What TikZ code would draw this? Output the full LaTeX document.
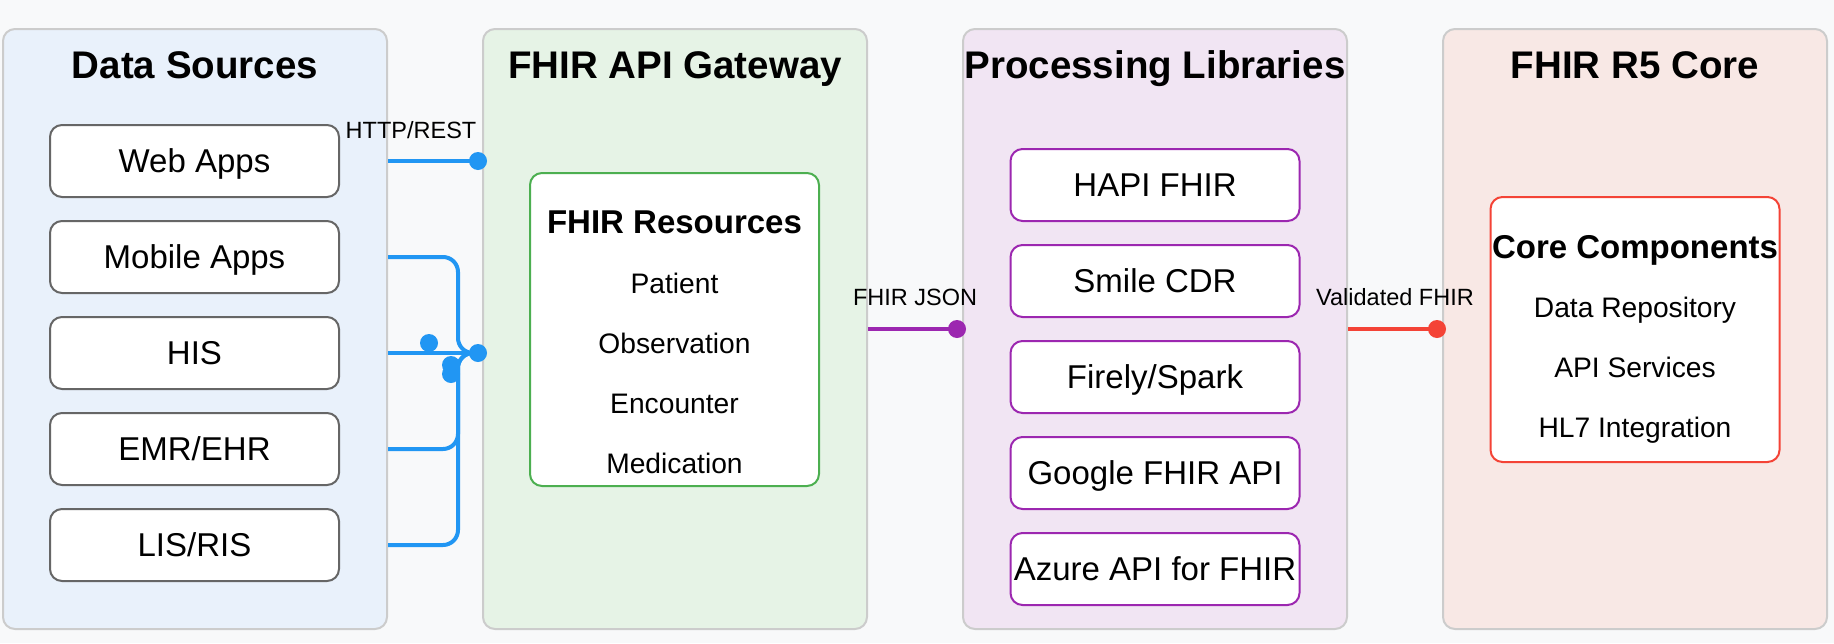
\documentclass[tikz,border=0pt]{standalone}
\usepackage{fontspec}
\setmainfont{Liberation Sans}
\usetikzlibrary{calc}
\definecolor{pagebg}{HTML}{F8F9FA}
\definecolor{panelline}{HTML}{CCCCCC}
\definecolor{srcfill}{HTML}{E9F1FB}
\definecolor{gwfill}{HTML}{E6F3E6}
\definecolor{procfill}{HTML}{F1E5F3}
\definecolor{corefill}{HTML}{F8E8E5}
\definecolor{srcline}{HTML}{666666}
\definecolor{flowblue}{HTML}{2196F3}
\definecolor{flowpurple}{HTML}{9C27B0}
\definecolor{flowred}{HTML}{F44336}
\definecolor{resgreen}{HTML}{4CAF50}
\tikzset{
	panel/.style={draw=panelline, line width=1pt, rounded corners=6pt,
			minimum width=192pt, minimum height=300pt},
	paneltitle/.style={font=\bfseries\fontsize{19.25}{23}\selectfont,
			inner sep=0pt, text height=13.8pt, text depth=0pt},
	srcbox/.style={draw=srcline, fill=white, line width=1pt, rounded corners=6pt,
			minimum width=144.5pt, minimum height=36pt, inner sep=0pt,
			font=\fontsize{16.5}{20}\selectfont, text height=11.8pt, text depth=0pt},
	libbox/.style={srcbox, draw=flowpurple},
	innerbox/.style={fill=white, line width=1pt, rounded corners=6pt, minimum width=144.5pt},
	innertitle/.style={font=\bfseries\fontsize{16.5}{20}\selectfont,
			inner sep=0pt, text height=11.8pt, text depth=0pt},
	listentry/.style={font=\fontsize{14.1}{17}\selectfont,
			inner sep=0pt, text height=10.1pt, text depth=0pt},
	flowlabel/.style={font=\fontsize{11.75}{14}\selectfont,
			inner sep=0pt, text height=8.4pt, text depth=0pt},
	flow/.style={line width=2pt},
	enddot/.style={circle, inner sep=0pt, minimum size=9pt}
}

\begin{document}
\begin{tikzpicture}[x=0.5pt, y=-0.5pt]
	\fill[pagebg] (0,0) rectangle (1834,643);
	\useasboundingbox (0,0) rectangle (1834,643);

	\node[panel, fill=srcfill] (src) at (195,329) {};
	\node[panel, fill=gwfill] (gw) at (675,329) {};
	\node[panel, fill=procfill] (proc) at (1155,329) {};
	\node[panel, fill=corefill] (core) at (1635,329) {};

	\node[paneltitle] (srctitle) at (195,65) {Data Sources};
	\node[paneltitle] (gwtitle) at (675,65) {FHIR API Gateway};
	\node[paneltitle] (proctitle) at (1155,65) {Processing Libraries};
	\node[paneltitle] (coretitle) at (1635,65) {FHIR R5 Core};

	\node[srcbox] (web) at (194.5,161) {Web Apps};
	\node[srcbox] (mobile) at (194.5,257) {Mobile Apps};
	\node[srcbox] (his) at (194.5,353) {HIS};
	\node[srcbox] (emr) at (194.5,449) {EMR/EHR};
	\node[srcbox] (lis) at (194.5,545) {LIS/RIS};

	\node[innerbox, draw=resgreen, minimum height=156.5pt] (res) at (674.5,329.5) {};
	\node[innertitle] (restitle) at (674.5,222) {FHIR Resources};
	\node[listentry] (patient) at (674.5,283) {Patient};
	\node[listentry] (obs) at (674.5,343) {Observation};
	\node[listentry] (enc) at (674.5,403) {Encounter};
	\node[listentry] (med) at (674.5,463) {Medication};

	\node[libbox] (hapi) at (1155,185) {HAPI FHIR};
	\node[libbox] (smile) at (1155,281) {Smile CDR};
	\node[libbox] (firely) at (1155,377) {Firely/Spark};
	\node[libbox] (google) at (1155,473) {Google FHIR API};
	\node[libbox] (azure) at (1155,569) {Azure API for FHIR};

	\node[innerbox, draw=flowred, minimum height=132.5pt] (comp) at (1635,329.5) {};
	\node[innertitle] (comptitle) at (1635,247) {Core Components};
	\node[listentry] (repo) at (1635,307.5) {Data Repository};
	\node[listentry] (apisvc) at (1635,367.5) {API Services};
	\node[listentry] (hl7) at (1635,427.5) {HL7 Integration};

	\coordinate (merge) at (458,353);
	\coordinate (webend) at (478,161);
	\coordinate (gwend) at (478,353);
	\coordinate (jsonend) at (957,329);
	\coordinate (valend) at (1437,329);

	\draw[flow, flowblue] (src.east |- web) -- (webend);
	\draw[flow, flowblue, rounded corners=7.5pt] (src.east |- mobile) -| (merge) -- (gwend);
	\draw[flow, flowblue] (src.east |- his) -- (gwend);
	\draw[flow, flowblue, rounded corners=7.5pt] (src.east |- emr) -| (merge) -- (gwend);
	\draw[flow, flowblue, rounded corners=7.5pt] (src.east |- lis) -| (merge) -- (gwend);
	\draw[flow, flowpurple] (gw.east |- jsonend) -- (jsonend);
	\draw[flow, flowred] (proc.east |- valend) -- (valend);

	\node[enddot, fill=flowblue] (webdot) at (webend) {};
	\node[enddot, fill=flowblue] (gwdot) at (gwend) {};
	\node[enddot, fill=flowblue] (stray1) at (429,343) {};
	\node[enddot, fill=flowblue] (stray2) at (451,365) {};
	\node[enddot, fill=flowblue] (stray3) at (451,374) {};
	\node[enddot, fill=flowpurple] (jsondot) at (jsonend) {};
	\node[enddot, fill=flowred] (valdot) at (valend) {};

	\node[flowlabel] (httplbl) at (411,130) {HTTP/REST};
	\node[flowlabel] (jsonlbl) at (915,297) {FHIR JSON};
	\node[flowlabel] (vallbl) at (1395,297) {Validated FHIR};
\end{tikzpicture}
\end{document}
